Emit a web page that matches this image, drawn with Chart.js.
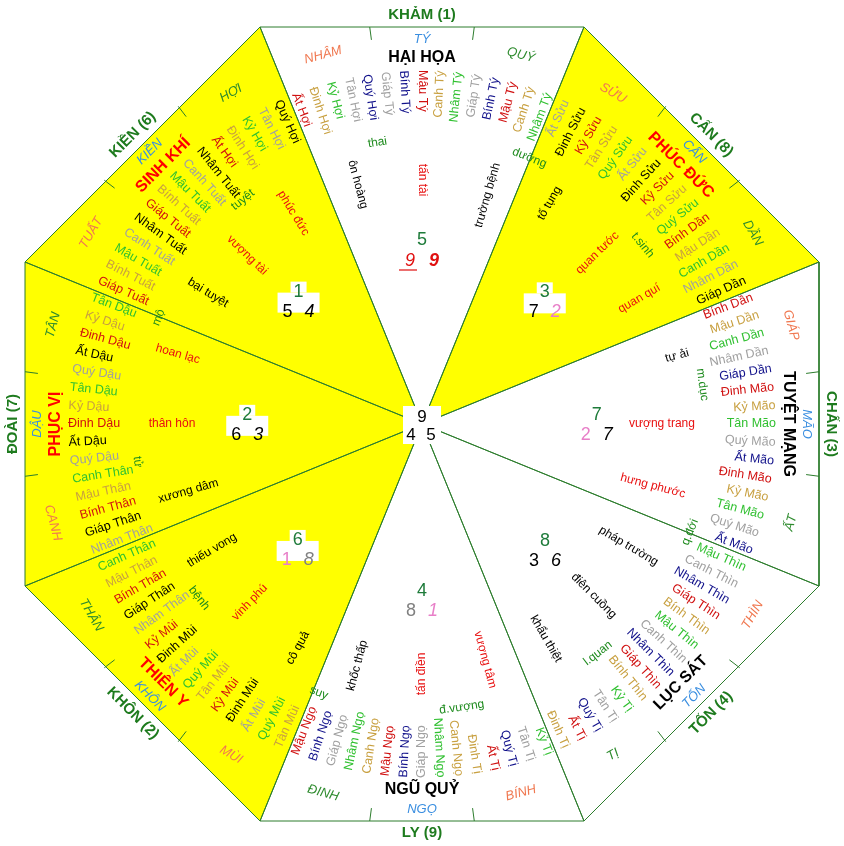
<!DOCTYPE html>
<html><head><meta charset="utf-8">
<script src="https://cdn.jsdelivr.net/npm/chart.js@4.4.0/dist/chart.umd.min.js"></script>
<style>html,body{margin:0;padding:0;background:#fff}canvas{display:block}</style>
</head><body><canvas id="c" width="844" height="846"></canvas>
<script>
// ---- data ----
const trigrams = ['KHẢM (1)','CẤN (8)','CHẤN (3)','TỐN (4)','LY (9)','KHÔN (2)','ĐOÀI (7)','KIỀN (6)'];
const sectorStars = ['HẠI HỌA','PHÚC ĐỨC','TUYỆT MẠNG','LỤC SÁT','NGŨ QUỶ','THIÊN Y','PHỤC VỊ','SINH KHÍ'];
const sectorStarColors = ['#000','#ff0000','#000','#000','#000','#ff0000','#ff0000','#ff0000'];
const sectorFill = ['#ffffff','#ffff00','#ffffff','#ffffff','#ffffff','#ffff00','#ffff00','#ffff00'];
const mountains = ['NHÂM','TÝ','QUÝ','SỬU','CẤN','DẦN','GIÁP','MÃO','ẤT','THÌN','TỐN','TỊ',
                   'BÍNH','NGỌ','ĐINH','MÙI','KHÔN','THÂN','CANH','DẬU','TÂN','TUẤT','KIỀN','HỢI'];
const mountainColors = ['#f07850','#3a8ee0','#2e8b2e'];
const phanKim = [
 'Ất Hợi','Đinh Hợi','Kỷ Hợi','Tân Hợi','Quý Hợi','Giáp Tý','Bính Tý','Mậu Tý','Canh Tý','Nhâm Tý','Giáp Tý','Bính Tý','Mậu Tý','Canh Tý','Nhâm Tý',
 'Ất Sửu','Đinh Sửu','Kỷ Sửu','Tân Sửu','Quý Sửu','Ất Sửu','Đinh Sửu','Kỷ Sửu','Tân Sửu','Quý Sửu','Bính Dần','Mậu Dần','Canh Dần','Nhâm Dần','Giáp Dần',
 'Bính Dần','Mậu Dần','Canh Dần','Nhâm Dần','Giáp Dần','Đinh Mão','Kỷ Mão','Tân Mão','Quý Mão','Ất Mão','Đinh Mão','Kỷ Mão','Tân Mão','Quý Mão','Ất Mão',
 'Mậu Thìn','Canh Thìn','Nhâm Thìn','Giáp Thìn','Bính Thìn','Mậu Thìn','Canh Thìn','Nhâm Thìn','Giáp Thìn','Bính Thìn','Kỷ Tị','Tân Tị','Quý Tị','Ất Tị','Đinh Tị',
 'Kỷ Tị','Tân Tị','Quý Tị','Ất Tị','Đinh Tị','Canh Ngọ','Nhâm Ngọ','Giáp Ngọ','Bính Ngọ','Mậu Ngọ','Canh Ngọ','Nhâm Ngọ','Giáp Ngọ','Bính Ngọ','Mậu Ngọ',
 'Tân Mùi','Quý Mùi','Ất Mùi','Đinh Mùi','Kỷ Mùi','Tân Mùi','Quý Mùi','Ất Mùi','Đinh Mùi','Kỷ Mùi','Nhâm Thân','Giáp Thân','Bính Thân','Mậu Thân','Canh Thân',
 'Nhâm Thân','Giáp Thân','Bính Thân','Mậu Thân','Canh Thân','Quý Dậu','Ất Dậu','Đinh Dậu','Kỷ Dậu','Tân Dậu','Quý Dậu','Ất Dậu','Đinh Dậu','Kỷ Dậu','Tân Dậu',
 'Giáp Tuất','Bính Tuất','Mậu Tuất','Canh Tuất','Nhâm Tuất','Giáp Tuất','Bính Tuất','Mậu Tuất','Canh Tuất','Nhâm Tuất','Ất Hợi','Đinh Hợi','Kỷ Hợi','Tân Hợi','Quý Hợi'];
// colour codes: R red, Y gold, G green, S grey, B navy, K black
const phanKimCodes = [
 'RYGSBSBRYGSBRYG','SKRYGSKRYGRYGSK','RYGSBRYGSBRYGSB','GSBRYGSBRYGSBRY','GSBRYYGSBRYGSBR',
 'YGSKRYGSKRSKRYG','SKRYGSKRYGSKRYG','RYGSKRYGSKRYGSK'];
const codeColors = {R:'#d01010',Y:'#c8a040',G:'#30c030',S:'#a0a0a0',B:'#10108a',K:'#000000'};
const ringWords = ['thai','dưỡng','t.sinh','m.dục','q.đới','l.quan','đ.vượng','suy','bệnh','tử','mộ','tuyệt'];
const ringBearings = [-9,22,51,82,112,142.5,172,201,232,262.4,292,321.4];
const ringRadii = [285,287,284,283,289,289,286,288,283,287,284,287];
const luckWords = ['ôn hoàng','tấn tài','trường bệnh','tố tụng','quan tước','quan quí','tự ải','vượng trang','hưng phước',
 'pháp trường','điên cuồng','khẩu thiệt','vượng tâm','tấn điền','khốc thấp','cô quả','vinh phú','thiếu vong',
 'xương dâm','thân hôn','hoan lạc','bại tuyệt','vượng tài','phúc đức'];
const luckBearings = [-15,0,16,30,45.7,60,75,90,105,120.6,135,150,165,180,195,209,224,239,254,270,286,301.5,314,328.6];
const luckRadii = [248,244,238,255,245,251,264,240,239,240,243,248,244,250,250,256,248,245,243,250,254,251,243,247];
const luckColors = 'KRKKRRKRRKKKRRKKRKKRRKRR';
const starTop = ['5','3','7','8','4','6','2','1'];
const starLeft = ['9','7','2','3','8','1','6','5'];
const starRight = ['9','2','7','6','1','8','3','4'];
const starLeftColors = ['#e01010','#000','#e87fc8','#000','#808080','#e87fc8','#000','#000'];
const starRightColors = ['#e01010','#e87fc8','#000','#000','#e87fc8','#808080','#000','#000'];
const starBearings = [0,43,87,133.6,180,227,-87,-43];
const starRadii = [184,180,175,170,167,170,175,181];
const centerDigits = ['9','4','5'];

// ---- geometry ----
const A = 397, H = 162;
const verts = [[-H,A],[H,A],[A,H],[A,-H],[H,-A],[-H,-A],[-A,-H],[-A,H]];
const datasets = trigrams.map((t,k)=>({
  label:t, data:[{x:0,y:0},{x:verts[k][0],y:verts[k][1]},{x:verts[(k+1)%8][0],y:verts[(k+1)%8][1]},{x:0,y:0}],
  showLine:true, borderColor:'#2d7d2d', borderWidth:1, pointRadius:0, fill:false, fillColor:sectorFill[k]
}));

const norm = a => { a = ((a%360)+360)%360; return a>180 ? a-360 : a; };
const F = "'Liberation Sans', Arial, sans-serif";

const artPlugin = {
  id:'art',
  beforeDatasetsDraw(chart){
    const ctx = chart.ctx;
    chart.data.datasets.forEach((ds,i)=>{
      const pts = chart.getDatasetMeta(i).data;
      ctx.save(); ctx.beginPath();
      pts.forEach((p,j)=> j?ctx.lineTo(p.x,p.y):ctx.moveTo(p.x,p.y));
      ctx.closePath(); ctx.fillStyle = ds.fillColor; ctx.fill(); ctx.restore();
    });
  },
  afterDatasetsDraw(chart){
    const ctx = chart.ctx, xs = chart.scales.x, ys = chart.scales.y;
    const P = (b,r)=>{const a=b*Math.PI/180; return [xs.getPixelForValue(r*Math.sin(a)), ys.getPixelForValue(r*Math.cos(a))];};
    const txt = (s,x,y,rot,align,font,color,ul)=>{
      ctx.save(); ctx.translate(x,y); ctx.rotate(rot*Math.PI/180);
      ctx.font=font; ctx.fillStyle=color; ctx.textAlign=align; ctx.textBaseline='middle';
      ctx.fillText(s,0,0);
      if(ul){const w=ctx.measureText(s).width; ctx.strokeStyle=color; ctx.lineWidth=1.2; ctx.beginPath(); ctx.moveTo(-w/2-6,9); ctx.lineTo(w/2+2,9); ctx.stroke();}
      ctx.restore();
    };
    const radial = b => { let r = norm(b+90), f=false; if(r>90||r<-90){ r=norm(r+180); f=true; } return [r,f]; };
    const tang = b => { let r = norm(b); if(r>90||r<-90) r=norm(r+180); return r; };
    // ticks
    ctx.save(); ctx.strokeStyle='#2d7d2d'; ctx.lineWidth=1;
    for(let k=0;k<8;k++) for(const d of [-7.5,7.5]){
      const rr = A/Math.cos(d*Math.PI/180);
      const p1=P(45*k+d,rr), p2=P(45*k+d,rr-13);
      ctx.beginPath(); ctx.moveTo(p1[0],p1[1]); ctx.lineTo(p2[0],p2[1]); ctx.stroke();
    }
    ctx.restore();
    // trigram names outside
    trigrams.forEach((t,k)=>{ const p=P(45*k,409); txt(t,p[0],p[1],tang(45*k),'center','bold 15px '+F,'#1e7b1e'); });
    // mountains
    mountains.forEach((m,i)=>{ const b=15*(i-1); const j=i%3; const r = j===1?385:382; const p=P(b,r);
      txt(m,p[0],p[1],tang(b),'center','italic 13px '+F, mountainColors[j]); });
    // sector stars
    sectorStars.forEach((s,k)=>{ const p=P(45*k,366); txt(s,p[0],p[1],tang(45*k),'center','bold 16px '+F,sectorStarColors[k]); });
    // phan kim names
    phanKim.forEach((n,i)=>{ const b=-21+3*i; const [rot,f]=radial(b); const p=P(b,354);
      const c = codeColors[phanKimCodes[Math.floor(i/15)][i%15]];
      txt(n,p[0],p[1],rot,f?'right':'left','12.5px '+F,c); });
    // ring words
    ringWords.forEach((w,i)=>{ const p=P(ringBearings[i],ringRadii[i]); txt(w,p[0],p[1],tang(ringBearings[i]),'center','12px '+F,'#1e8b1e'); });
    // luck words
    luckWords.forEach((w,i)=>{ const b=luckBearings[i]; const p=P(b,luckRadii[i]); const [rot]=radial(b);
      txt(w,p[0],p[1],rot,'center','12px '+F, luckColors[i]==='R'?'#e81010':'#000'); });
    // star digits
    starTop.forEach((d,k)=>{
      const p=P(starBearings[k],starRadii[k]); const x=p[0], y=p[1];
      if(sectorFill[k]==='#ffff00'){ ctx.fillStyle='#fff'; ctx.fillRect(x-8,y-10,16,11); ctx.fillRect(x-21,y+1,42,20); }
      txt(d,x,y,0,'center','18px '+F,'#1e7b3a');
      if(k===0){
        txt(starLeft[k],x-12,y+21,0,'center','italic 18px '+F,starLeftColors[k],true);
        txt(starRight[k],x+12,y+21,0,'center','italic bold 18px '+F,starRightColors[k]);
      } else {
        txt(starLeft[k],x-11,y+20,0,'center','18px '+F,starLeftColors[k]);
        txt(starRight[k],x+11,y+20,0,'center','italic 18px '+F,starRightColors[k]);
      }
    });
    // centre box
    const c0=P(0,0);
    ctx.fillStyle='#fff'; ctx.fillRect(c0[0]-19,c0[1]-18,38,38);
    txt(centerDigits[0],c0[0],c0[1]-7,0,'center','17px '+F,'#000');
    txt(centerDigits[1],c0[0]-11,c0[1]+11,0,'center','17px '+F,'#000');
    txt(centerDigits[2],c0[0]+9,c0[1]+11,0,'center','17px '+F,'#000');
  }
};

new Chart(document.getElementById('c'),{
  type:'scatter',
  data:{datasets},
  options:{
    responsive:false, animation:false, devicePixelRatio:1,
    layout:{padding:0},
    plugins:{legend:{display:false}, tooltip:{enabled:false}},
    scales:{
      x:{type:'linear',min:-422,max:422,display:false},
      y:{type:'linear',min:-422,max:424,display:false}
    }
  },
  plugins:[artPlugin]
});
</script></body></html>
